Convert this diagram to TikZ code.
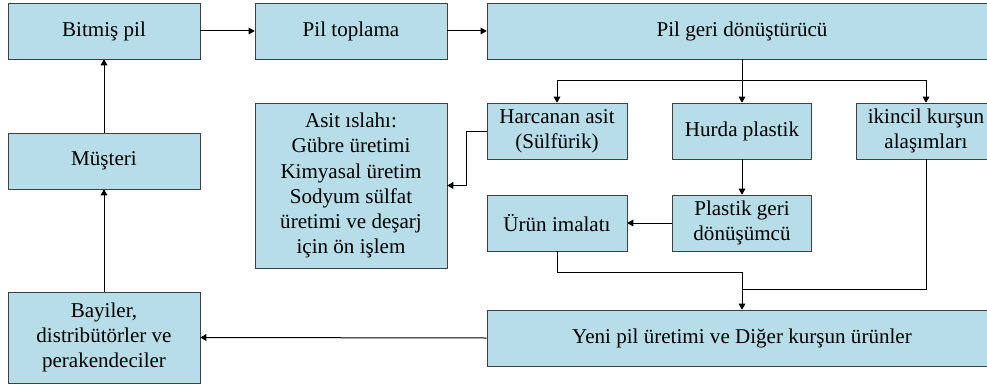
\documentclass[tikz,border=0pt]{standalone}
\usepackage{fontspec}
\setmainfont{LiberationSerif}[Extension=.ttf, UprightFont=*-Regular, BoldFont=*-Bold]
\usetikzlibrary{arrows.meta}
\definecolor{boxfill}{HTML}{B7DDE8}
\tikzset{
  box/.style={draw=black!75, fill=boxfill, align=center, inner sep=0pt,
    font=\fontsize{15.8}{18.8}\selectfont},
  flow/.style={-{Triangle[width=5pt,length=4.5pt]}, line width=0.75pt},
  line/.style={line width=0.75pt}
}
\begin{document}
\begin{tikzpicture}[x=0.75pt, y=-0.75pt]
  \useasboundingbox (0,0) rectangle (987,385);
  \clip (0,0) rectangle (987,385);

  % top row
  \node[box, minimum width=192*0.75pt, minimum height=56*0.75pt] (bitmis) at (104,31) {Bitmiş pil};
  \node[box, minimum width=192*0.75pt, minimum height=56*0.75pt] (toplama) at (351,31) {Pil toplama};
  \node[box, minimum width=510*0.75pt, minimum height=56*0.75pt] (geri) at (742,31) {Pil geri dönüştürücü};

  % middle rows
  \node[box, minimum width=192*0.75pt, minimum height=56*0.75pt] (musteri) at (104,161) {Müşteri};
  \node[box, minimum width=192*0.75pt, minimum height=165*0.75pt] (asit) at (351,185.5)
    {Asit ıslahı:\\Gübre üretimi\\Kimyasal üretim\\Sodyum sülfat\\üretimi ve deşarj\\için ön işlem};
  \node[box, minimum width=140*0.75pt, minimum height=56*0.75pt] (harcanan) at (557,131) {Harcanan asit\\(Sülfürik)};
  \node[box, minimum width=139*0.75pt, minimum height=56*0.75pt] (hurda) at (742,131) {Hurda plastik};
  \node[box, minimum width=140*0.75pt, minimum height=56*0.75pt] (ikincil) at (926,131) {ikincil kurşun\\alaşımları};
  \node[box, minimum width=140*0.75pt, minimum height=56*0.75pt] (urun) at (557,223) {Ürün imalatı};
  \node[box, minimum width=139*0.75pt, minimum height=56*0.75pt] (plastik) at (742,223) {Plastik geri\\dönüşümcü};

  % bottom row
  \node[box, minimum width=510*0.75pt, minimum height=56*0.75pt] (yeni) at (742,338) {Yeni pil üretimi ve Diğer kurşun ürünler};
  \node[box, minimum width=192*0.75pt, minimum height=91*0.75pt] (bayiler) at (104,337.5)
    {Bayiler,\\distribütörler ve\\perakendeciler};

  \coordinate (split) at (742,80);
  \coordinate (join1) at (742,272);
  \coordinate (join2) at (742,289);

  \draw[flow] (bitmis) -- (toplama);
  \draw[flow] (toplama) -- (geri);
  \draw[line] (geri.south) -- (split);
  \draw[flow] (split) -| (harcanan.north);
  \draw[flow] (split) -- (hurda.north);
  \draw[flow] (split) -| (ikincil.north);
  \draw[flow] (harcanan.west) -- ++(-20,0) |- (asit.east);
  \draw[flow] (hurda) -- (plastik);
  \draw[flow] (plastik) -- (urun);
  \draw[line] (urun.south) |- (join1);
  \draw[line] (ikincil.south) |- (join2);
  \draw[flow] (join1) -- (yeni.north);
  \draw[flow] (yeni.west) -- (bayiler.east);
  \draw[flow] (bayiler) -- (musteri);
  \draw[flow] (musteri) -- (bitmis);
\end{tikzpicture}
\end{document}
